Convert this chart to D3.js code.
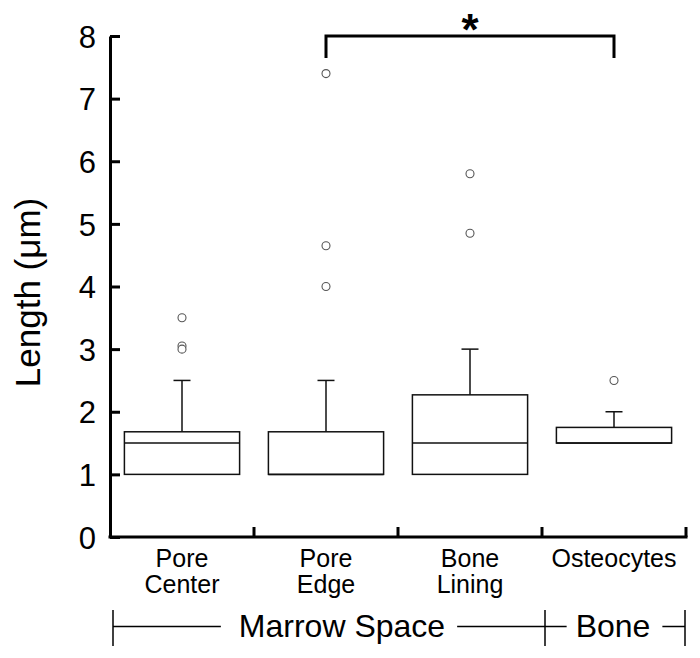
<!DOCTYPE html>
<html>
<head>
<meta charset="utf-8">
<script src="https://cdn.jsdelivr.net/npm/d3@7/dist/d3.min.js"></script>
<style>
  html, body { margin: 0; padding: 0; background: #fff; }
  text { font-family: "Liberation Sans", Arial, Helvetica, sans-serif; fill: #000; }
</style>
</head>
<body>
<svg id="chart" width="700" height="658"></svg>
<script>
// ---- data ----
const categories = [["Pore", "Center"], ["Pore", "Edge"], ["Bone", "Lining"], ["Osteocytes"]];
const q1 = [1.0, 1.0, 1.0, 1.5];
const medians = [1.5, 1.0, 1.5, 1.5];
const q3 = [1.68, 1.68, 2.27, 1.75];
const whiskerLow = [1.0, 1.0, 1.0, 1.5];
const whiskerHigh = [2.5, 2.5, 3.0, 2.0];
const outliers = [[3.5, 3.05, 3.0], [4.0, 4.65, 7.4], [4.85, 5.8], [2.5]];
const yTicks = [0, 1, 2, 3, 4, 5, 6, 7, 8];
const groups = [{ label: "Marrow Space", from: 0, to: 2 }, { label: "Bone", from: 3, to: 3 }];
const significance = { from: 1, to: 3, label: "*", level: 8 };
const yTitle = "Length (\u03bcm)";

// ---- layout ----
const svg = d3.select("#chart");
const x0 = 110, x1 = 686, yBottom = 537, yTop = 36;
const x = d3.scaleBand().domain(d3.range(categories.length)).range([x0, x1]).paddingInner(0.2).paddingOuter(0.1);
const y = d3.scaleLinear().domain([0, 8]).range([yBottom, yTop]);
const step = x.step();
const bandStart = i => x(i) - x.paddingOuter() * step;
const bandEnd = i => bandStart(i) + step;

// y axis
const yAxis = d3.axisLeft(y).tickValues(yTicks).tickSize(-10).tickSizeOuter(0).tickPadding(14);
const gy = svg.append("g").attr("transform", `translate(${x0},0)`).call(yAxis);
gy.attr("font-family", null).attr("font-size", null);
gy.select(".domain").attr("stroke", "#000").attr("stroke-width", 3);
gy.selectAll(".tick line").attr("stroke", "#000").attr("stroke-width", 3);
gy.selectAll(".tick text").style("font-size", "31px").attr("dy", "0.36em");

// x axis
svg.append("line").attr("x1", x0 - 1.5).attr("x2", x1 + 1.5).attr("y1", yBottom).attr("y2", yBottom)
  .attr("stroke", "#000").attr("stroke-width", 3);
svg.selectAll(".xtick").data(d3.range(categories.length)).enter().append("line")
  .attr("x1", i => bandEnd(i)).attr("x2", i => bandEnd(i))
  .attr("y1", yBottom).attr("y2", yBottom - 10)
  .attr("stroke", "#000").attr("stroke-width", 3);

// category labels
const cat = svg.selectAll(".cat").data(categories).enter().append("text")
  .attr("text-anchor", "middle").style("font-size", "25px")
  .attr("transform", (d, i) => `translate(${x(i) + x.bandwidth() / 2},567)`);
cat.selectAll("tspan").data(d => d).enter().append("tspan")
  .attr("x", 0).attr("dy", (d, j) => j === 0 ? 0 : 26).text(d => d);

// boxes
const bw = x.bandwidth();
const boxes = svg.selectAll(".box").data(d3.range(categories.length)).enter().append("g");
boxes.append("line").attr("x1", i => x(i) + bw / 2).attr("x2", i => x(i) + bw / 2)
  .attr("y1", i => y(q3[i])).attr("y2", i => y(whiskerHigh[i])).attr("stroke", "#111").attr("stroke-width", 1.5);
boxes.append("line").attr("x1", i => x(i) + bw / 2 - 8.5).attr("x2", i => x(i) + bw / 2 + 8.5)
  .attr("y1", i => y(whiskerHigh[i])).attr("y2", i => y(whiskerHigh[i])).attr("stroke", "#111").attr("stroke-width", 1.5);
boxes.filter(i => whiskerLow[i] < q1[i]).append("line").attr("x1", i => x(i) + bw / 2).attr("x2", i => x(i) + bw / 2)
  .attr("y1", i => y(q1[i])).attr("y2", i => y(whiskerLow[i])).attr("stroke", "#111").attr("stroke-width", 1.5);
boxes.append("rect").attr("x", i => x(i)).attr("width", bw)
  .attr("y", i => y(q3[i])).attr("height", i => y(q1[i]) - y(q3[i]))
  .attr("fill", "none").attr("stroke", "#111").attr("stroke-width", 1.5);
boxes.append("line").attr("x1", i => x(i)).attr("x2", i => x(i) + bw)
  .attr("y1", i => y(medians[i])).attr("y2", i => y(medians[i])).attr("stroke", "#111").attr("stroke-width", 1.5);
boxes.each(function (i) {
  d3.select(this).selectAll("circle").data(outliers[i]).enter().append("circle")
    .attr("cx", x(i) + bw / 2).attr("cy", d => y(d)).attr("r", 4)
    .attr("fill", "#fff").attr("stroke", "#555").attr("stroke-width", 1.1);
});

// significance bracket
const sx1 = x(significance.from) + bw / 2, sx2 = x(significance.to) + bw / 2, sy = y(significance.level);
svg.append("path").attr("d", `M${sx1},${sy + 22}V${sy}H${sx2}V${sy + 22}`)
  .attr("fill", "none").attr("stroke", "#000").attr("stroke-width", 3);
svg.append("text").attr("x", (sx1 + sx2) / 2).attr("y", sy + 9).attr("text-anchor", "middle")
  .style("font-size", "44px").style("font-weight", "bold").text(significance.label);

// y title
svg.append("text").attr("transform", `translate(40,${(yTop + yBottom) / 2 + 6}) rotate(-90)`)
  .attr("text-anchor", "middle").style("font-size", "35px").text(yTitle);

// group brackets
const gyLine = 626.5;
const gLeft = [bandStart(0) + 3, bandEnd(2) + 3];
const gRight = [bandEnd(2) + 3, bandEnd(3) - 1];
const textCenters = [342, 613];
const gapL = [18, 9], gapR = [12, 12];
groups.forEach((g, k) => {
  const t = svg.append("text").attr("x", textCenters[k]).attr("y", 637).attr("text-anchor", "middle")
    .style("font-size", "32px").text(g.label);
  const w = t.node().getComputedTextLength();
  const tl = textCenters[k] - w / 2, tr = textCenters[k] + w / 2;
  svg.append("line").attr("x1", gLeft[k]).attr("x2", tl - gapL[k]).attr("y1", gyLine).attr("y2", gyLine)
    .attr("stroke", "#000").attr("stroke-width", 1.5);
  svg.append("line").attr("x1", tr + gapR[k]).attr("x2", gRight[k]).attr("y1", gyLine).attr("y2", gyLine)
    .attr("stroke", "#000").attr("stroke-width", 1.5);
});
[bandStart(0) + 3, bandEnd(2) + 3, bandEnd(3) - 1].forEach(px => {
  svg.append("line").attr("x1", px).attr("x2", px).attr("y1", 610).attr("y2", 646)
    .attr("stroke", "#000").attr("stroke-width", 1.5);
});
</script>
</body>
</html>
